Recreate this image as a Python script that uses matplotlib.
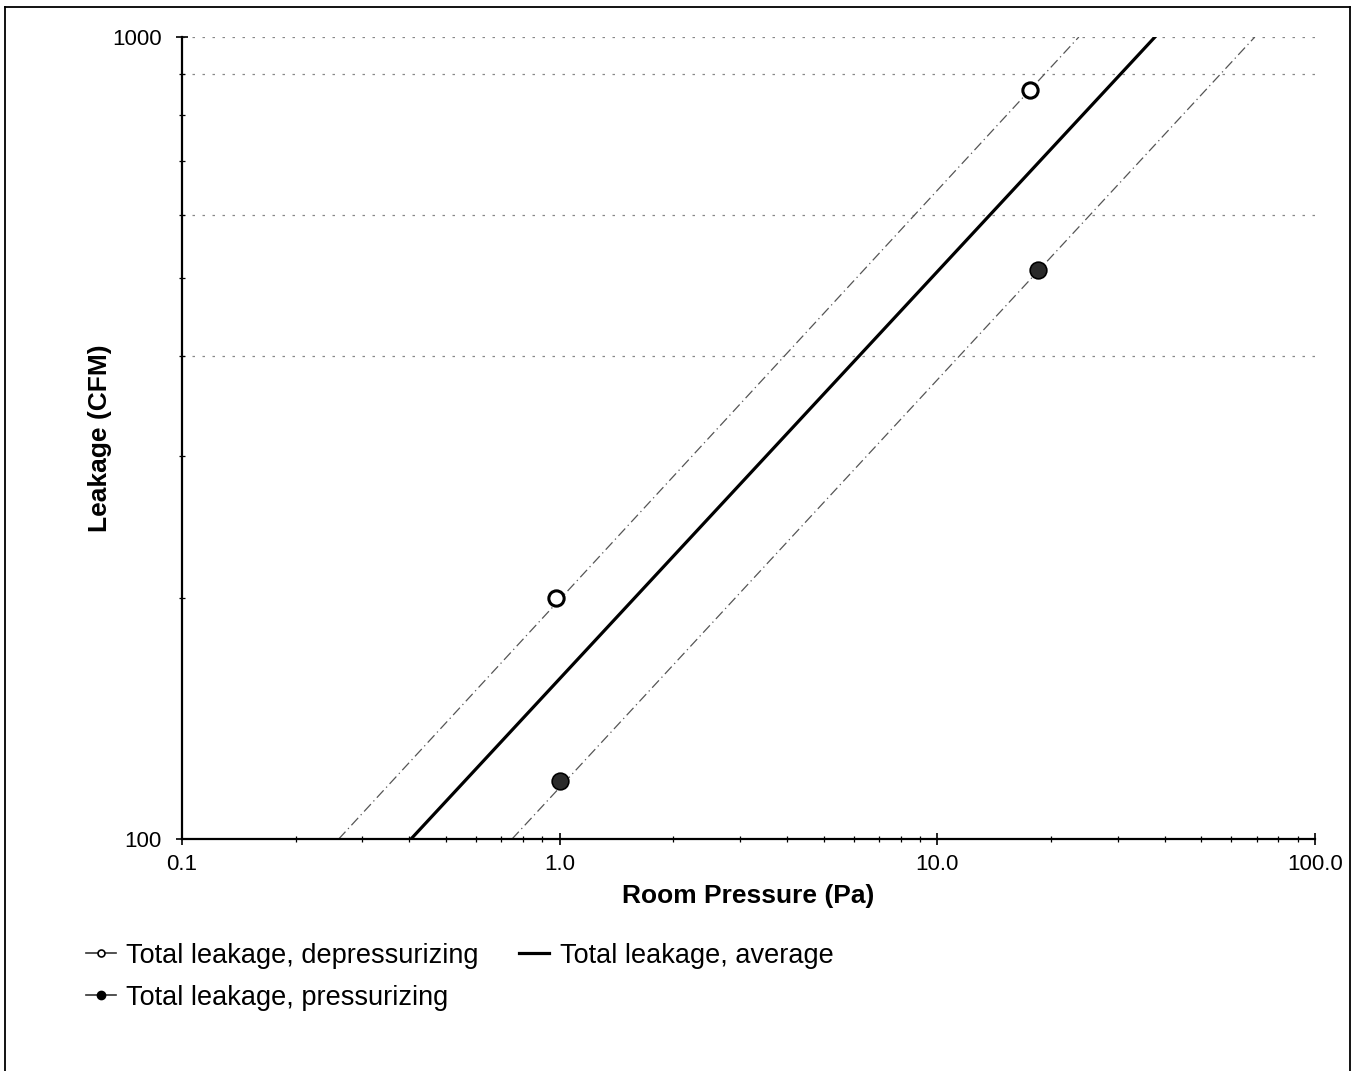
import matplotlib.pyplot as plt
from matplotlib.lines import Line2D
from matplotlib.ticker import NullFormatter

plt.rcParams['font.family'] = ['Liberation Sans', 'DejaVu Sans']

# measured points (Pa, CFM)
dep_pressure = [0.98, 17.6]
dep_leakage = [200, 858]
press_pressure = [1.0, 18.5]
press_leakage = [118, 512]

# fitted lines, read at the axis limits
dep_line_p = [0.26, 23.7]
avg_line_p = [0.404, 37.7]
press_line_p = [0.748, 69.3]
line_q = [100, 1000]

grid_levels = [400, 600, 900, 1000]
x_ticks = [0.1, 1.0, 10.0, 100.0]
x_labels = ['0.1', '1.0', '10.0', '100.0']
y_ticks = [100, 1000]
y_labels = ['100', '1000']


def plot():
    fig = plt.figure(figsize=(13.62, 10.71), dpi=100)
    ax = fig.add_axes([0.1336, 0.2166, 0.8319, 0.7489])

    for g in grid_levels:
        ax.axhline(g, color='#888888', lw=0.9, ls=(0, (2, 6)), zorder=1)

    ax.plot(dep_line_p, line_q, color='#555555', lw=0.9, ls=(0, (8, 3, 1, 3)), zorder=2)
    ax.plot(press_line_p, line_q, color='#555555', lw=0.9, ls=(0, (8, 3, 1, 3)), zorder=2)
    ax.plot(avg_line_p, line_q, color='black', lw=2.3, zorder=3)

    ax.plot(dep_pressure, dep_leakage, ls='none', marker='o', ms=11, mfc='white',
            mec='black', mew=2.2, zorder=4)
    ax.plot(press_pressure, press_leakage, ls='none', marker='o', ms=12, mfc='#2a2a2a',
            mec='black', mew=1.2, zorder=4)

    ax.set_xscale('log')
    ax.set_yscale('log')
    ax.set_xlim(0.1, 100)
    ax.set_ylim(100, 1000)
    ax.set_xticks(x_ticks)
    ax.set_xticklabels(x_labels)
    ax.set_yticks(y_ticks)
    ax.set_yticklabels(y_labels)
    ax.xaxis.set_minor_formatter(NullFormatter())
    ax.yaxis.set_minor_formatter(NullFormatter())
    ax.tick_params(which='major', direction='inout', length=9, width=1.2, labelsize=16)
    ax.tick_params(which='minor', direction='inout', length=5, width=0.9)
    ax.tick_params(axis='x', which='major', pad=6)
    ax.tick_params(axis='y', which='major', pad=10)

    for s in ['top', 'right']:
        ax.spines[s].set_visible(False)
    for s in ['left', 'bottom']:
        ax.spines[s].set_linewidth(1.6)

    ax.set_xlabel('Room Pressure (Pa)', fontsize=19, fontweight='bold', labelpad=7)
    ax.set_ylabel('Leakage (CFM)', fontsize=19, fontweight='bold', labelpad=0)

    handles = [
        Line2D([], [], color='#333333', lw=1.2, marker='o', ms=5, mfc='white', mec='black', mew=1.2),
        Line2D([], [], color='#333333', lw=1.2, marker='o', ms=6, mfc='black', mec='black'),
        Line2D([], [], color='black', lw=2.3),
    ]
    labels = ['Total leakage, depressurizing', 'Total leakage, pressurizing', 'Total leakage, average']
    fig.legend(handles, labels, ncol=2, loc='upper left', bbox_to_anchor=(0.055, 0.13),
               frameon=False, fontsize=19.5, handlelength=1.1, handletextpad=0.4,
               columnspacing=1.5, labelspacing=0.6, borderaxespad=0)

    # scanned frame around the figure
    fig.add_artist(Line2D([0.004, 0.991], [0.993, 0.993], color='black', lw=1.3))
    fig.add_artist(Line2D([0.004, 0.004], [0.0, 0.993], color='black', lw=1.3))
    fig.add_artist(Line2D([0.991, 0.991], [0.0, 0.993], color='black', lw=1.3))

    fig.savefig('out.png', dpi=100)


if __name__ == '__main__':
    plot()
